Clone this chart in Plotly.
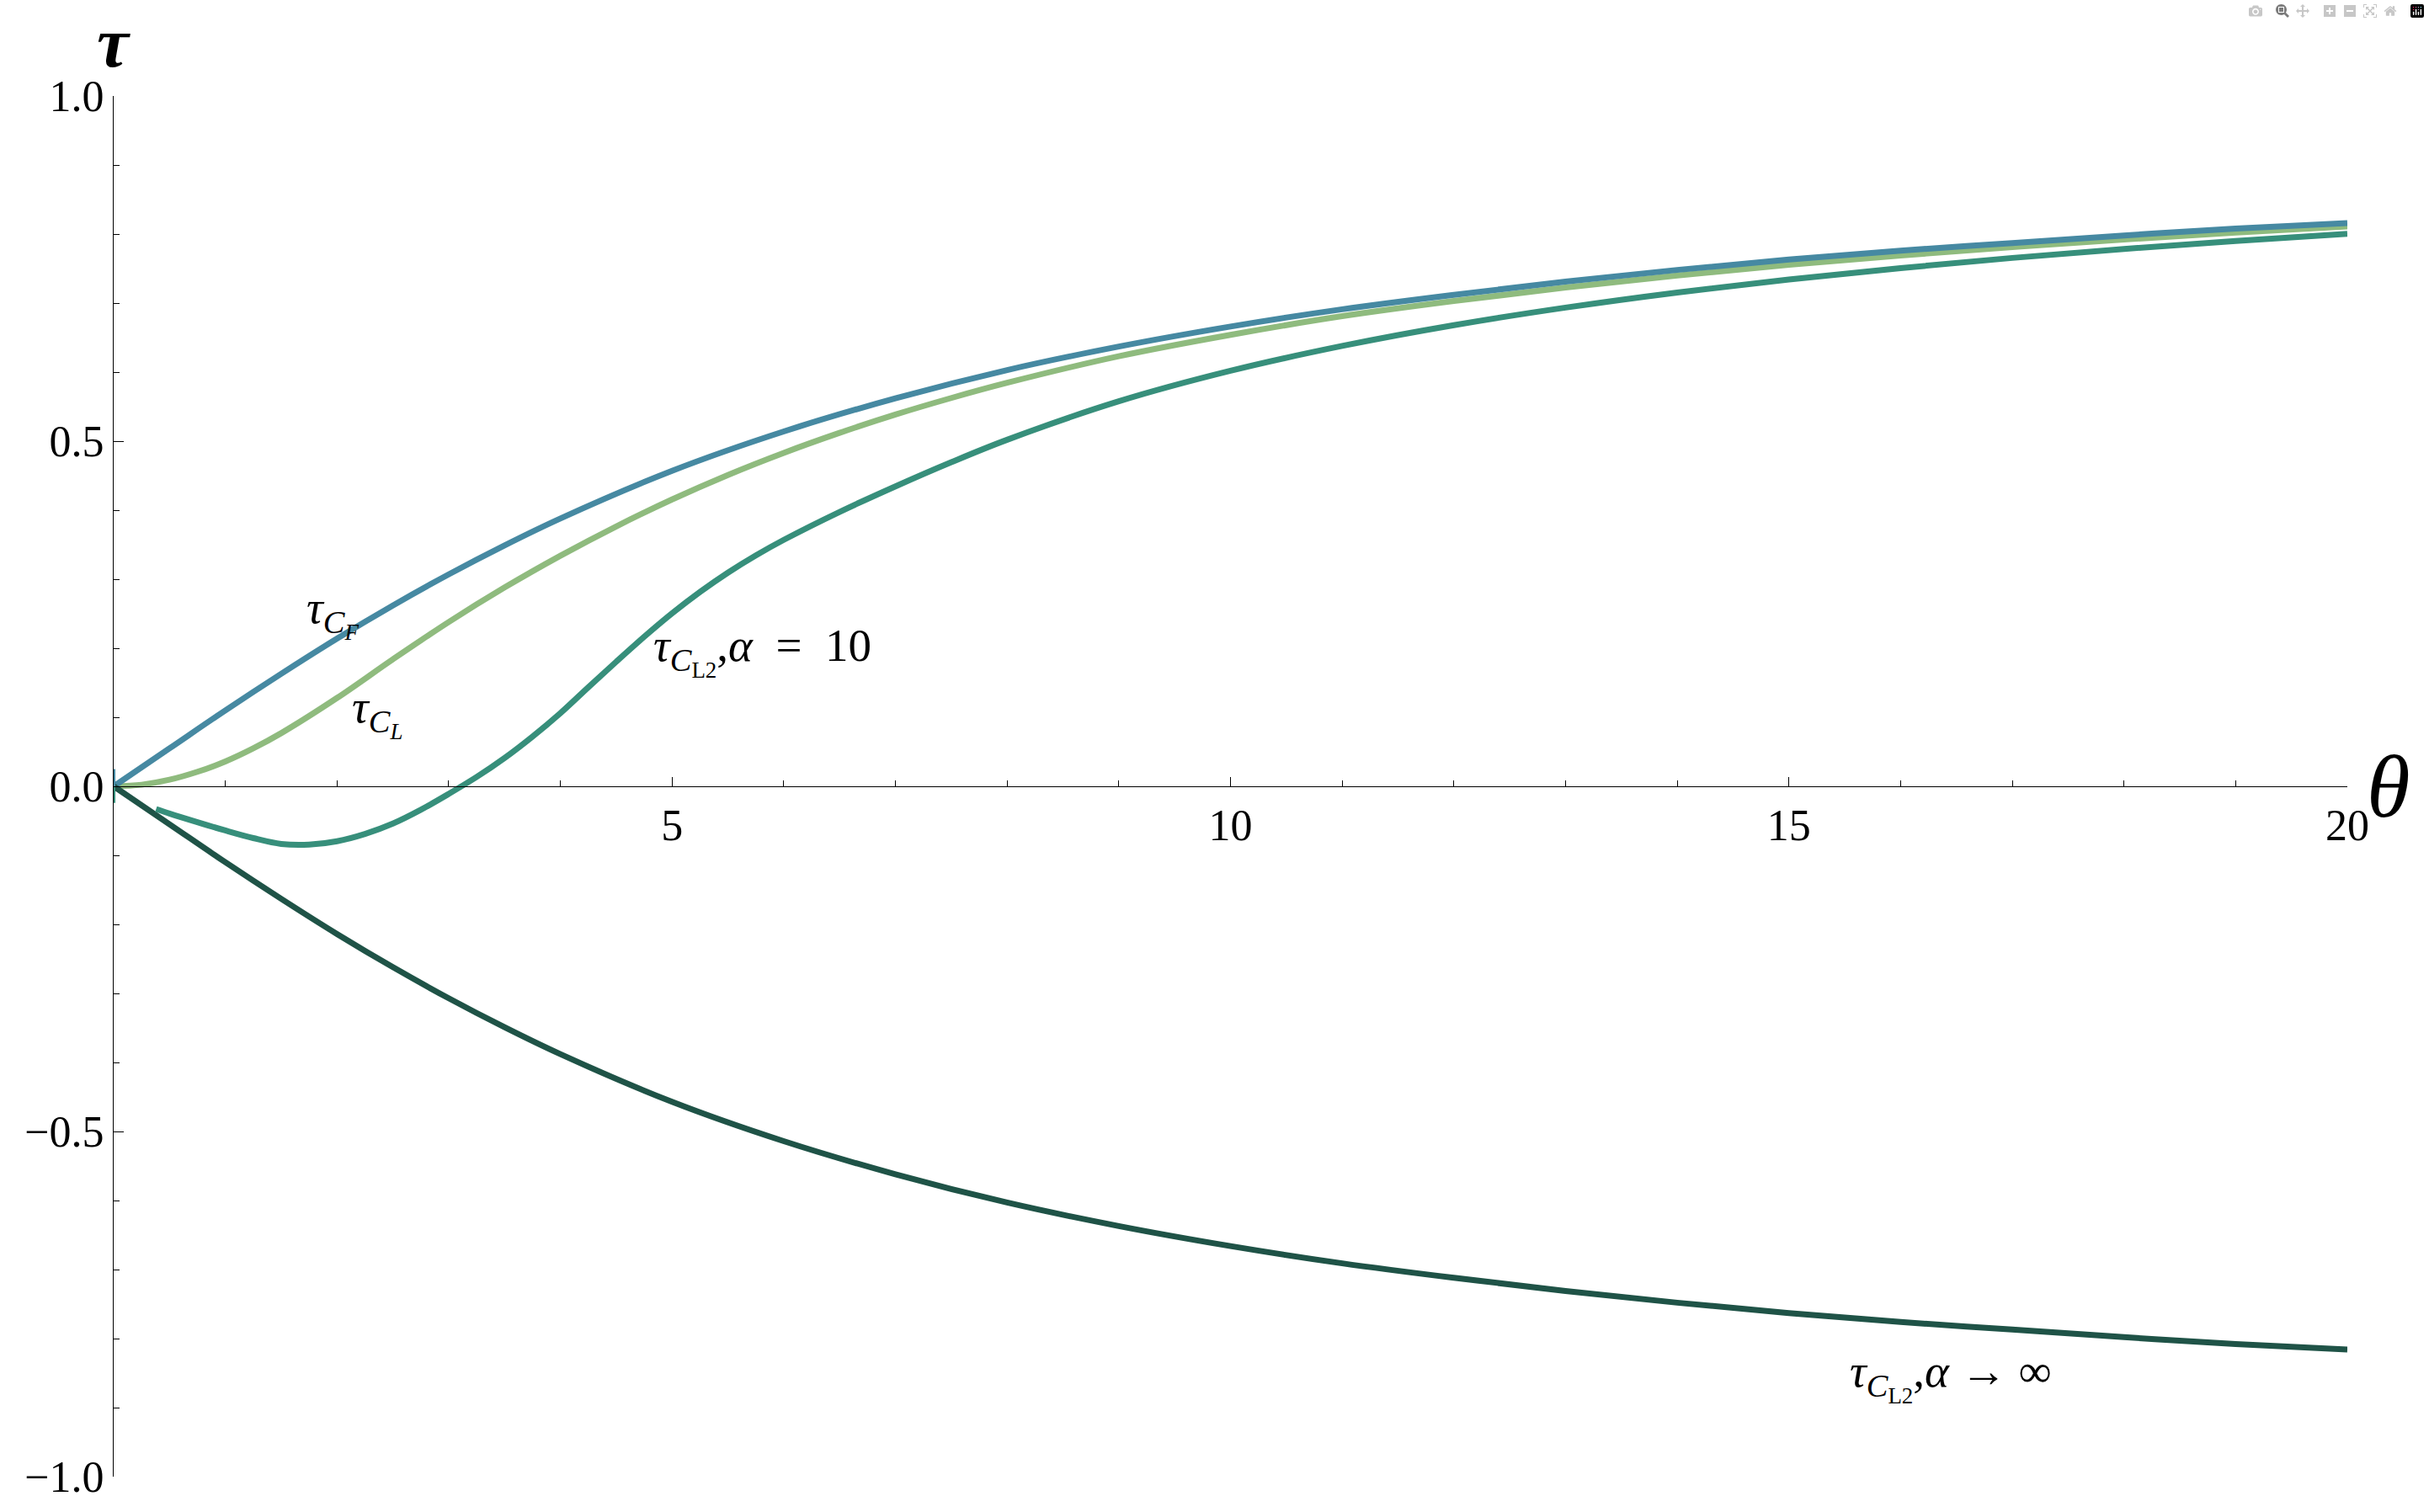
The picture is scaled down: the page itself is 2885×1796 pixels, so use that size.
import plotly.graph_objects as go

# tau_CF (Frank)
theta_f = [0, 0.5, 1, 1.5, 2, 2.5, 3, 3.5, 4, 5, 6, 7, 8, 9, 10,
           11, 12, 13, 14, 15, 16, 17, 18, 19, 20]
tau_f = [0, 0.055, 0.110, 0.163, 0.214, 0.262, 0.307, 0.349, 0.388, 0.457,
         0.514, 0.562, 0.603, 0.637, 0.666, 0.691, 0.712, 0.731, 0.748,
         0.763, 0.776, 0.787, 0.798, 0.808, 0.816]

# tau_CL
theta_l = [0, 0.25, 0.5, 0.75, 1, 1.25, 1.5, 2, 2.5, 3, 3.5, 4, 4.5, 5,
           5.5, 6, 6.5, 7, 7.5, 8, 9, 10, 11, 12, 13, 14, 15, 16, 17, 18,
           19, 20]
tau_l = [0, 0.0023, 0.0095, 0.021, 0.036, 0.055, 0.077, 0.128, 0.184,
         0.238, 0.288, 0.334, 0.3765, 0.4155, 0.451, 0.483, 0.512, 0.5385,
         0.5625, 0.5845, 0.623, 0.654, 0.681, 0.703, 0.7225, 0.740, 0.7555,
         0.769, 0.781, 0.792, 0.802, 0.811]

# tau_CL2, alpha = 10
theta_a10 = [0.38, 0.5, 0.75, 1.0, 1.25, 1.5, 1.75, 2.0, 2.25, 2.5, 2.75,
             3.0, 3.25, 3.5, 3.75, 4.0, 4.25, 4.5, 4.75, 5.0, 5.25, 5.5,
             5.75, 6.0, 6.5, 7.0, 7.5, 8, 9, 10, 11, 12, 13, 14, 15, 16, 17,
             18, 19, 20]
tau_a10 = [-0.033, -0.0395, -0.052, -0.064, -0.075, -0.0835, -0.0845,
           -0.0795, -0.069, -0.054, -0.034, -0.011, 0.0135, 0.041, 0.072,
           0.106, 0.1435, 0.1805, 0.2165, 0.2505, 0.2815, 0.3095, 0.3345,
           0.357, 0.3975, 0.4345, 0.4695, 0.502, 0.5577, 0.6019, 0.6379,
           0.668, 0.6934, 0.7153, 0.7342, 0.7507, 0.7654, 0.7784, 0.790,
           0.8004]

# tau_CL2, alpha -> infinity
theta_inf = [0, 0.5, 1, 1.5, 2, 2.5, 3, 3.5, 4, 5, 6, 7, 8, 9, 10,
             11, 12, 13, 14, 15, 16, 17, 18, 19, 20]
tau_inf = [0, -0.055, -0.110, -0.163, -0.214, -0.262, -0.307, -0.349,
           -0.388, -0.457, -0.514, -0.562, -0.603, -0.637, -0.666, -0.691,
           -0.712, -0.731, -0.748, -0.763, -0.776, -0.787, -0.798, -0.808,
           -0.816]

# short vertical stroke at the origin
theta_stub = [0, 0]
tau_stub_up = [0, 0.025]
tau_stub_dn = [0, -0.024]

y_ticks = [-1, -0.5, 0, 0.5, 1]
y_labels = ["\u22121.0", "\u22120.5", "0.0", "0.5", "1.0"]
x_ticks = [5, 10, 15, 20]
x_labels = ["5", "10", "15", "20"]

BLUE = "#4689a2"
GREEN = "#8fbb7e"
TEAL = "#378f7b"
DARK = "#1f5347"
LW = 7
FONT = "Liberation Serif, Times New Roman, serif"

fig = go.Figure()
fig.add_trace(go.Scatter(x=theta_l, y=tau_l, mode="lines",
                         line=dict(color=GREEN, width=LW, shape="spline")))
fig.add_trace(go.Scatter(x=theta_f, y=tau_f, mode="lines",
                         line=dict(color=BLUE, width=LW, shape="spline")))
fig.add_trace(go.Scatter(x=theta_inf, y=tau_inf, mode="lines",
                         line=dict(color=DARK, width=LW, shape="spline")))
fig.add_trace(go.Scatter(x=theta_a10, y=tau_a10, mode="lines",
                         line=dict(color=TEAL, width=LW, shape="spline")))
fig.add_trace(go.Scatter(x=theta_stub, y=tau_stub_up, mode="lines",
                         line=dict(color=BLUE, width=4)))
fig.add_trace(go.Scatter(x=theta_stub, y=tau_stub_dn, mode="lines",
                         line=dict(color=TEAL, width=4)))

fig.update_layout(
    width=2885, height=1796,
    margin=dict(l=135, r=97, t=114, b=42),
    paper_bgcolor="white", plot_bgcolor="white",
    showlegend=False,
    font=dict(family=FONT, size=52, color="black"),
)

fig.update_xaxes(
    range=[0, 20], anchor="free", position=0.5,
    showline=True, linecolor="black", linewidth=1.3,
    tickvals=x_ticks, ticktext=x_labels,
    ticks="inside", ticklen=11, tickwidth=1.3, tickcolor="black",
    minor=dict(tickvals=list(range(1, 20)), ticks="inside", ticklen=7,
               tickwidth=1, tickcolor="black"),
    showgrid=False, zeroline=False,
)
fig.update_yaxes(
    range=[-1, 1],
    showline=True, linecolor="black", linewidth=1.3,
    tickvals=y_ticks, ticktext=y_labels,
    ticks="inside", ticklen=12, tickwidth=1.3, tickcolor="black",
    minor=dict(dtick=0.1, tick0=0, ticks="inside", ticklen=7,
               tickwidth=1, tickcolor="black"),
    showgrid=False, zeroline=False,
)

# axis titles
fig.add_annotation(text="<b><i>\u03c4</i></b>", xref="paper", yref="paper",
                   x=0.0, y=1.069, xanchor="center", yanchor="top",
                   showarrow=False, font=dict(family=FONT, size=85))
fig.add_annotation(text="<i>\u03b8</i>", xref="paper", yref="paper",
                   x=1.0185, y=0.5, xanchor="center", yanchor="middle",
                   showarrow=False, font=dict(family=FONT, size=105))

# curve labels
labels = [
    (1.71, 0.251, "<i>\u03c4</i><sub><i>C</i><sub><i>F</i></sub></sub>"),
    (2.12, 0.107, "<i>\u03c4</i><sub><i>C</i><sub><i>L</i></sub></sub>"),
    (4.82, 0.196, "<i>\u03c4</i><sub><i>C</i><sub>L2</sub></sub>,<i>\u03b1</i>\u2002=\u200210"),
    (15.53, -0.856, "<i>\u03c4</i><sub><i>C</i><sub>L2</sub></sub>,<i>\u03b1</i> \u2192 \u221e"),
]
for lx, ly, txt in labels:
    fig.add_annotation(text=txt, x=lx, y=ly, xanchor="left", yanchor="middle",
                       showarrow=False, font=dict(family=FONT, size=55))

fig.write_html("out.html", post_script="document.body.style.margin='0';")
